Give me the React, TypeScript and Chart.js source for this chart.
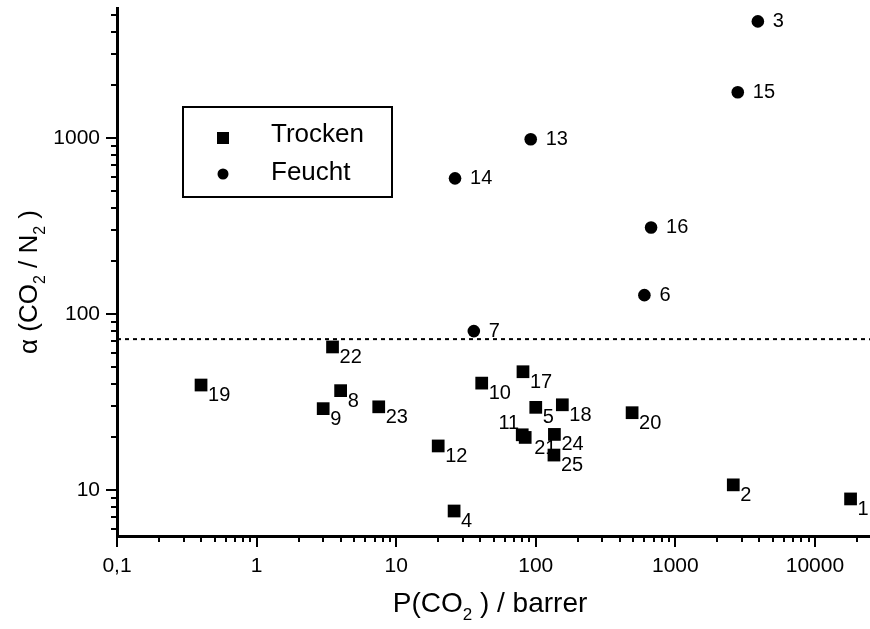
import React, { useEffect, useRef } from "react";
import { Chart, registerables } from "chart.js";

Chart.register(...registerables);

// ---------- data ----------
const TROCKEN_IDS = ["1", "2", "4", "5", "8", "9", "10", "11", "12", "17", "18", "19", "20", "21", "22", "23", "24", "25"];
const TROCKEN_P = [18000, 2600, 26, 100, 4, 3, 41, 80, 20, 81, 155, 0.4, 490, 84, 3.5, 7.5, 136, 135];
const TROCKEN_ALPHA = [8.9, 10.7, 7.6, 29.5, 36.7, 29, 40.5, 20.6, 17.8, 47, 30.5, 39.5, 27.5, 19.9, 65, 29.7, 20.7, 15.8];

const FEUCHT_IDS = ["3", "6", "7", "13", "14", "15", "16"];
const FEUCHT_P = [3900, 600, 36, 92, 26.4, 2800, 670];
const FEUCHT_ALPHA = [4600, 128, 80, 985, 590, 1820, 310];

const THRESHOLD_ALPHA = 72;

const X_MIN = 0.1;
const X_MAX = 24800;
const Y_MIN = 5.48;
const Y_MAX = 5480;

const X_TICKS = [0.1, 1, 10, 100, 1000, 10000];
const X_TICK_LABELS = ["0,1", "1", "10", "100", "1000", "10000"];
const Y_TICKS = [10, 100, 1000];
const Y_TICK_LABELS = ["10", "100", "1000"];

const LEGEND_LABELS = ["Trocken", "Feucht"];

// ---------- styles ----------
const FONT = '"Liberation Sans", Arial, Helvetica, sans-serif';
const INK = "#000";

const SQUARE_LABEL = { dx: 7, dy: 16, align: "left" as CanvasTextAlign };
const CIRCLE_LABEL = { dx: 15, dy: 5.5, align: "left" as CanvasTextAlign };
const LABEL_OVERRIDES: Record<string, { dx: number; dy: number; align: CanvasTextAlign }> = {
  "11": { dx: -3, dy: -6, align: "right" },
  "21": { dx: 9, dy: 17, align: "left" },
};

function drawRich(
  ctx: CanvasRenderingContext2D,
  parts: { t: string; sub?: boolean }[],
  size: number,
  x: number,
  y: number
) {
  const subSize = Math.round(size * 0.62);
  let total = 0;
  for (const p of parts) {
    ctx.font = `${p.sub ? subSize : size}px ${FONT}`;
    total += ctx.measureText(p.t).width;
  }
  let cx = x - total / 2;
  ctx.textAlign = "left";
  ctx.textBaseline = "alphabetic";
  for (const p of parts) {
    ctx.font = `${p.sub ? subSize : size}px ${FONT}`;
    ctx.fillText(p.t, cx, p.sub ? y + size * 0.3 : y);
    cx += ctx.measureText(p.t).width;
  }
}

const decorPlugin = {
  id: "decor",
  afterDraw(chart: any) {
    const ctx: CanvasRenderingContext2D = chart.ctx;
    const xs = chart.scales.x;
    const ys = chart.scales.y;
    const { left, bottom } = chart.chartArea;
    ctx.save();
    ctx.strokeStyle = INK;
    ctx.fillStyle = INK;
    ctx.lineWidth = 2;

    // tick marks (major + minor) on log axes
    for (let e = -1; e <= 4; e++) {
      for (let k = 1; k <= 9; k++) {
        const v = k * Math.pow(10, e);
        if (v < X_MIN * 0.999 || v > X_MAX) continue;
        const px = Math.round(xs.getPixelForValue(v));
        const len = k === 1 ? 11 : 6;
        ctx.beginPath();
        ctx.moveTo(px, bottom);
        ctx.lineTo(px, bottom + len);
        ctx.stroke();
      }
    }
    for (let e = 0; e <= 3; e++) {
      for (let k = 1; k <= 9; k++) {
        const v = k * Math.pow(10, e);
        if (v < Y_MIN || v > Y_MAX) continue;
        const py = Math.round(ys.getPixelForValue(v));
        const len = k === 1 ? 11 : 6;
        ctx.beginPath();
        ctx.moveTo(left, py);
        ctx.lineTo(left - len, py);
        ctx.stroke();
      }
    }

    // point labels
    ctx.font = `20px ${FONT}`;
    ctx.textBaseline = "alphabetic";
    const sets = [
      { meta: chart.getDatasetMeta(0), ids: TROCKEN_IDS, style: SQUARE_LABEL },
      { meta: chart.getDatasetMeta(1), ids: FEUCHT_IDS, style: CIRCLE_LABEL },
    ];
    for (const s of sets) {
      s.meta.data.forEach((el: any, i: number) => {
        const id = s.ids[i];
        const st = LABEL_OVERRIDES[id] || s.style;
        ctx.textAlign = st.align;
        ctx.fillText(id, el.x + st.dx, el.y + st.dy);
      });
    }

    // legend box
    ctx.lineWidth = 2;
    ctx.strokeRect(183, 107, 209, 90);
    ctx.fillRect(223 - 6, 138 - 6, 12, 12);
    ctx.beginPath();
    ctx.arc(223, 174, 5.5, 0, Math.PI * 2);
    ctx.fill();
    ctx.font = `26px ${FONT}`;
    ctx.textAlign = "left";
    ctx.textBaseline = "alphabetic";
    ctx.fillText(LEGEND_LABELS[0], 271, 142);
    ctx.fillText(LEGEND_LABELS[1], 271, 180);

    // axis titles
    drawRich(
      ctx,
      [{ t: "P(CO" }, { t: "2", sub: true }, { t: " ) / barrer" }],
      28,
      490,
      612
    );
    ctx.save();
    ctx.translate(37, 282);
    ctx.rotate(-Math.PI / 2);
    drawRich(
      ctx,
      [{ t: "\u03B1 (CO" }, { t: "2", sub: true }, { t: " / N" }, { t: "2", sub: true }, { t: " )" }],
      26,
      0,
      0
    );
    ctx.restore();

    ctx.restore();
  },
};

function zeroPadding(s: any) {
  s.paddingTop = 0;
  s.paddingBottom = 0;
  s.paddingLeft = 0;
  s.paddingRight = 0;
}

export default function App() {
  const ref = useRef<HTMLCanvasElement>(null);

  useEffect(() => {
    if (!ref.current) return;
    const chart = new Chart(ref.current, {
      type: "scatter",
      data: {
        datasets: [
          {
            label: LEGEND_LABELS[0],
            data: TROCKEN_P.map((p, i) => ({ x: p, y: TROCKEN_ALPHA[i] })),
            pointStyle: "rect",
            pointRadius: 9,
            pointHoverRadius: 9,
            backgroundColor: INK,
            borderWidth: 0,
          },
          {
            label: LEGEND_LABELS[1],
            data: FEUCHT_P.map((p, i) => ({ x: p, y: FEUCHT_ALPHA[i] })),
            pointStyle: "circle",
            pointRadius: 6.3,
            pointHoverRadius: 6.3,
            backgroundColor: INK,
            borderWidth: 0,
          },
          {
            type: "line",
            label: "threshold",
            data: [
              { x: X_MIN, y: THRESHOLD_ALPHA },
              { x: X_MAX, y: THRESHOLD_ALPHA },
            ],
            borderColor: INK,
            borderWidth: 2,
            borderDash: [4, 4],
            pointRadius: 0,
            showLine: true,
            fill: false,
          } as any,
        ],
      },
      options: {
        animation: false,
        responsive: false,
        devicePixelRatio: 1,
        layout: { autoPadding: false, padding: { top: 8, right: 0, left: 0, bottom: 0 } },
        plugins: { legend: { display: false }, tooltip: { enabled: false } },
        events: [],
        scales: {
          x: {
            type: "logarithmic",
            min: X_MIN,
            max: X_MAX,
            afterBuildTicks: (s: any) => {
              s.ticks = X_TICKS.map((v) => ({ value: v, major: true }));
            },
            afterFit: (s: any) => {
              s.height = 93;
              zeroPadding(s);
            },
            ticks: {
              autoSkip: false,
              maxRotation: 0,
              padding: 18,
              color: INK,
              font: { family: FONT, size: 21 },
              callback: (_v: any, i: number) => X_TICK_LABELS[i],
            },
            grid: { display: false, drawTicks: false },
            border: { display: true, color: INK, width: 3 },
          },
          y: {
            type: "logarithmic",
            min: Y_MIN,
            max: Y_MAX,
            afterBuildTicks: (s: any) => {
              s.ticks = Y_TICKS.map((v) => ({ value: v, major: true }));
            },
            afterFit: (s: any) => {
              s.width = 117;
              zeroPadding(s);
            },
            ticks: {
              autoSkip: false,
              padding: 17,
              color: INK,
              font: { family: FONT, size: 21 },
              callback: (_v: any, i: number) => Y_TICK_LABELS[i],
            },
            grid: { display: false, drawTicks: false },
            border: { display: true, color: INK, width: 3 },
          },
        },
      },
      plugins: [decorPlugin],
    });
    return () => chart.destroy();
  }, []);

  return (
    <div style={{ position: "absolute", left: 0, top: 0, width: 870, height: 629, background: "#fff" }}>
      <canvas ref={ref} width={870} height={629} />
    </div>
  );
}
